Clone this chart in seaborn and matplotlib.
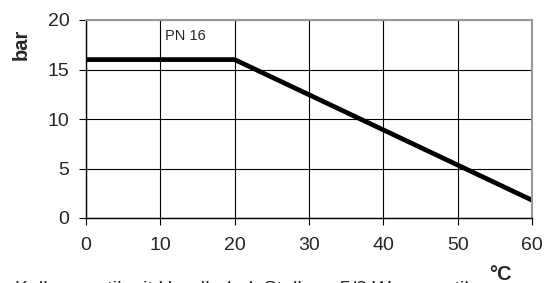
import matplotlib
matplotlib.use("Agg")
import matplotlib.pyplot as plt
import seaborn as sns
import pandas as pd

temps = [0, 20, 60]
pressure = [16, 16, 1.8]
x_ticks = [0, 10, 20, 30, 40, 50, 60]
y_ticks = [0, 5, 10, 15, 20]

sns.set_theme(style="white")
plt.rcParams['font.family'] = ['Liberation Sans', 'DejaVu Sans']

W, H = 547, 283
fig = plt.figure(figsize=(W/100, H/100), dpi=100)
L, R, T, B = 86, 532, 20, 218
ax = fig.add_axes([L/W, 1-B/H, (R-L)/W, (B-T)/H])

df = pd.DataFrame({"temp": temps, "pressure": pressure})
sns.lineplot(data=df, x="temp", y="pressure", ax=ax, color="black", linewidth=3.4)

ax.set_xlim(0, 60)
ax.set_ylim(0, 20)
ax.set_xticks(x_ticks)
ax.set_yticks(y_ticks)
ax.grid(True, color="black", linewidth=0.8)
ax.set_axisbelow(True)
for s in ["left", "bottom"]:
    ax.spines[s].set_color("black")
    ax.spines[s].set_linewidth(1.0)
for s in ["top", "right"]:
    ax.spines[s].set_color("#999999")
    ax.spines[s].set_linewidth(1.5)
ax.tick_params(axis="both", direction="out", length=5, width=0.8, color="black",
               labelsize=14, left=True, bottom=True)
ax.tick_params(axis="x", pad=9)
ax.tick_params(axis="y", pad=7)
ax.set_xlabel("")
ax.set_ylabel("")

ax.text(10.6, 18.35, "PN 16", fontsize=10.5, ha="left", va="center")
fig.text(21/W, 1-44/H, "bar", rotation=90, fontsize=14.5, fontweight="bold",
         ha="center", va="center")
fig.text(500/W, 1-275/H, "°C", fontsize=14.5, fontweight="bold", ha="center", va="center")
fig.text(15/W, 1-294/H, "Kolbenventil mit Handhebel, Stellung 5/3 Wegeventil",
         fontsize=14, ha="left", va="baseline")

fig.savefig("out.png", dpi=100)
